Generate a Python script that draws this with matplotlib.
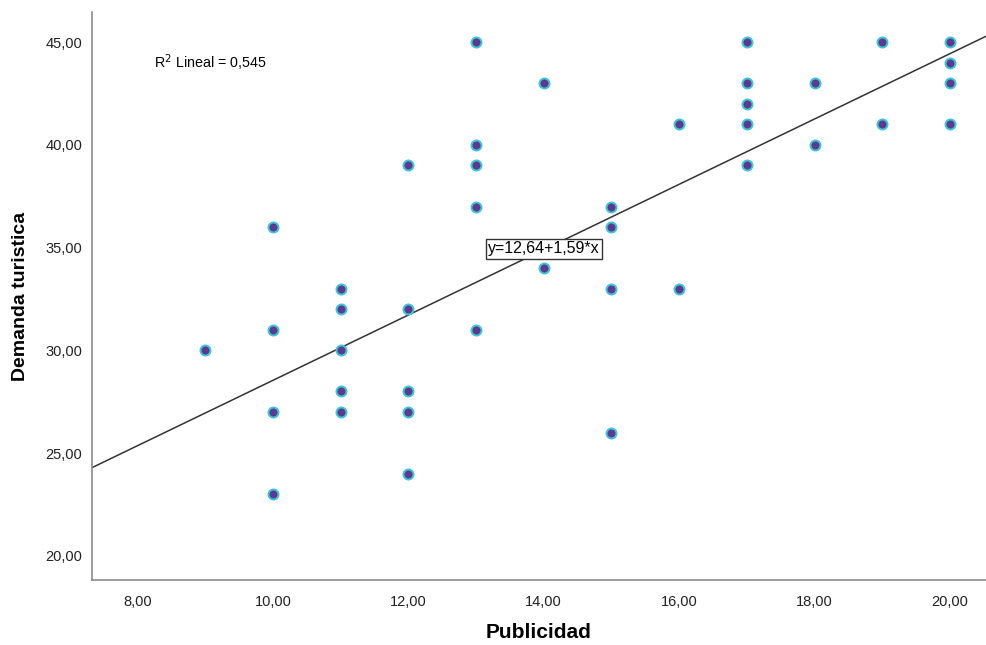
import numpy as np
import matplotlib.pyplot as plt

plt.rcParams['font.family'] = ['Liberation Sans', 'DejaVu Sans']

publicidad = [9, 10, 10, 10, 10, 11, 11, 11, 11, 11, 12, 12, 12, 12, 12,
              13, 13, 13, 13, 13, 14, 14, 15, 15, 15, 15, 16, 16,
              17, 17, 17, 17, 17, 18, 18, 19, 19, 20, 20, 20, 20]
demanda = [30, 36, 31, 27, 23, 33, 32, 30, 28, 27, 39, 32, 28, 27, 24,
           45, 40, 39, 37, 31, 43, 34, 37, 36, 33, 26, 41, 33,
           45, 43, 42, 41, 39, 43, 40, 45, 41, 45, 44, 43, 41]
intercept = 12.64
slope = 1.59
r2 = 0.545

xmin, xmax = 7.33, 20.53
ymin, ymax = 18.83, 46.46

fig = plt.figure(figsize=(9.86, 6.45), dpi=100)
ax = fig.add_axes([0.0933, 0.1008, 0.9067, 0.8805])

ax.scatter(publicidad, demanda, s=52, color='#5b3c8c', edgecolors='#3fc4dc',
           linewidths=1.4, zorder=3)

xs = np.array([xmin, xmax])
ax.plot(xs, intercept + slope * xs, color='#333333', lw=1.1, zorder=2)

ax.set_xlim(xmin, xmax)
ax.set_ylim(ymin, ymax)
ax.set_xticks(np.arange(8, 21, 2))
ax.set_yticks(np.arange(20, 46, 5))
fmt = lambda v: '{:.2f}'.format(v).replace('.', ',')
ax.set_xticklabels([fmt(v) for v in np.arange(8, 21, 2)])
ax.set_yticklabels([fmt(v) for v in np.arange(20, 46, 5)])
ax.tick_params(length=0, labelsize=10.5, colors='#222222', pad=11)
ax.tick_params(axis='y', pad=7)

for s in ['top', 'right']:
    ax.spines[s].set_visible(False)
for s in ['left', 'bottom']:
    ax.spines[s].set_color('#8c8c8c')
    ax.spines[s].set_linewidth(1.2)

ax.set_xlabel('Publicidad', fontsize=15, fontweight='bold', labelpad=10)
ax.set_ylabel('Demanda turistica', fontsize=14, fontweight='bold', labelpad=12)

ax.text(8.24, 44.0, 'R$^2$ Lineal = ' + '{:.3f}'.format(r2).replace('.', ','),
        fontsize=10.3, va='center', ha='left')
eq = 'y={:.2f}+{:.2f}*x'.format(intercept, slope).replace('.', ',')
ax.text(14.0, 34.95, eq, fontsize=11.5, va='center', ha='center',
        bbox=dict(boxstyle='square,pad=0.15', fc='white', ec='#333333', lw=1))

fig.savefig('out.png', dpi=100)
